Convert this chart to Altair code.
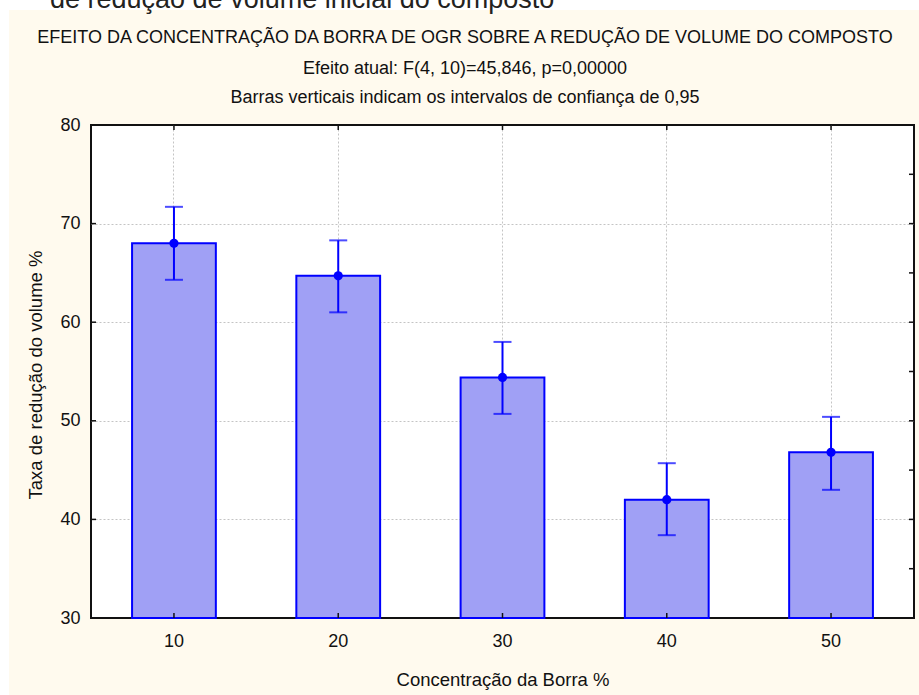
import altair as alt
import pandas as pd

# Borra concentration groups, group means and 0.95 confidence limits (%)
conc = ["10", "20", "30", "40", "50"]
mean = [68.0, 64.7, 54.4, 42.0, 46.8]
ci_low = [64.3, 61.0, 50.7, 38.4, 43.0]
ci_high = [71.7, 68.3, 58.0, 45.7, 50.4]

# y axis: labelled values and inward tick positions on the frame
y_labels = [30, 40, 50, 60, 70, 80]
y_left_ticks = [40, 50, 60, 70]
y_right_ticks = [35, 40, 45, 50, 55, 60, 65, 70, 75]

title_lines = [
    "EFEITO DA CONCENTRAÇÃO DA BORRA DE OGR SOBRE A REDUÇÃO DE VOLUME DO COMPOSTO",
    "Efeito atual: F(4, 10)=45,846, p=0,00000",
    "Barras verticais indicam  os intervalos de confiança de 0,95",
]
header_text = "de redução de volume inicial do composto"
x_title = "Concentração da Borra %"
y_title = "Taxa de redução do volume %"

# layout (pixels)
W, H = 823, 493
PAD_L, PAD_T, PAD_R, PAD_B = 91, 125, 5, 77
FONT = "Liberation Sans, Arial, sans-serif"
BLUE = "#0000ff"
CREAM = "#fffaee"
GRID = "#c4c4c4"

df = pd.DataFrame({"conc": conc, "mean": mean, "lo": ci_low, "hi": ci_high})
one = pd.DataFrame({"k": [0]})

xscale = alt.Scale(paddingInner=0.49, paddingOuter=0.25)
yscale = alt.Scale(domain=[30, 80], nice=False, zero=False)

x_axis = alt.Axis(
    title=x_title, labelAngle=0, labelFont=FONT, labelFontSize=18, labelColor="#111",
    labelBaseline="alphabetic", labelPadding=28, ticks=False, domain=False,
    grid=True, gridColor=GRID, gridDash=[2, 2], gridWidth=1, bandPosition=0.5,
    titleFont=FONT, titleFontSize=18.5, titleFontWeight="normal", titleColor="#111",
    titleX=W / 2, titleY=67, titleAlign="center", titleBaseline="alphabetic", titleAngle=0,
)
y_axis = alt.Axis(
    title=y_title, values=y_labels, labelFont=FONT, labelFontSize=18, labelColor="#111",
    labelAlign="right", labelBaseline="middle", labelPadding=11, ticks=False,
    domain=False, grid=True, gridColor=GRID, gridDash=[2, 2], gridWidth=1,
    # no grid line on top of the frame at the domain ends
    gridOpacity={"condition": {"test": "datum.value == 30 || datum.value == 80", "value": 0}, "value": 1},
    titleFont=FONT, titleFontSize=18.5, titleFontWeight="normal", titleColor="#111",
    titleX=-50, titleY=H / 2 + 3, titleAlign="center", titleBaseline="alphabetic", titleAngle=270,
)


def xenc(field="conc:O"):
    return alt.X(field, scale=xscale, axis=x_axis)


def yenc(field):
    return alt.Y(field, scale=yscale, axis=y_axis)


base = alt.Chart(df)

bars = base.mark_bar(fill="#a0a0f5", stroke=BLUE, strokeWidth=2).encode(
    x=xenc(), y=yenc("mean:Q"), y2=alt.datum(30)
)
err = base.mark_rule(color=BLUE, strokeWidth=2).encode(
    x=xenc(), y=yenc("lo:Q"), y2="hi:Q"
)
cap_lo = base.mark_tick(color=BLUE, size=18, thickness=2).encode(x=xenc(), y=yenc("lo:Q"))
cap_hi = base.mark_tick(color=BLUE, size=18, thickness=2).encode(x=xenc(), y=yenc("hi:Q"))
dots = base.mark_circle(color=BLUE, size=85, opacity=1).encode(x=xenc(), y=yenc("mean:Q"))

# inward ticks along the frame
tick_style = dict(color="#111", strokeWidth=1.5)
top_ticks = base.mark_rule(**tick_style).encode(x=xenc(), y=alt.value(0), y2=alt.value(5))
bottom_ticks = base.mark_rule(**tick_style).encode(x=xenc(), y=alt.value(H - 5), y2=alt.value(H))
left_ticks = alt.Chart(pd.DataFrame({"v": y_left_ticks})).mark_rule(**tick_style).encode(
    y=yenc("v:Q"), x=alt.value(0), x2=alt.value(5)
)
right_ticks = alt.Chart(pd.DataFrame({"v": y_right_ticks})).mark_rule(**tick_style).encode(
    y=yenc("v:Q"), x=alt.value(W - 5), x2=alt.value(W)
)

# white margin strips at the top and left edge, with the clipped heading above
strip_top = alt.Chart(one).mark_rect(color="white").encode(
    x=alt.value(-PAD_L), x2=alt.value(W + PAD_R), y=alt.value(-PAD_T), y2=alt.value(-PAD_T + 10)
)
strip_left = alt.Chart(one).mark_rect(color="white").encode(
    x=alt.value(-PAD_L), x2=alt.value(-PAD_L + 9), y=alt.value(-PAD_T), y2=alt.value(H + PAD_B)
)
header = alt.Chart(one).mark_text(
    text=header_text, font=FONT, fontSize=27, color="#222", align="left", baseline="alphabetic"
).encode(x=alt.value(50 - PAD_L), y=alt.value(8 - PAD_T))

titles = []
for line, yb in zip(title_lines, [43, 74, 103]):
    titles.append(
        alt.Chart(one).mark_text(
            text=line, font=FONT, fontSize=18, color="#111", align="center", baseline="alphabetic"
        ).encode(x=alt.value(465 - PAD_L), y=alt.value(yb - PAD_T))
    )

chart = alt.layer(
    bars, err, cap_lo, cap_hi, dots,
    top_ticks, bottom_ticks, left_ticks, right_ticks,
    strip_top, strip_left, header, *titles,
).properties(
    width=W,
    height=H,
    padding={"left": PAD_L, "top": PAD_T, "right": PAD_R, "bottom": PAD_B},
    autosize=alt.AutoSizeParams(type="none"),
    background=CREAM,
).configure_view(
    fill="white", stroke="#111", strokeWidth=2
)

chart.save("out.html", embed_options={"renderer": "svg", "actions": False})
